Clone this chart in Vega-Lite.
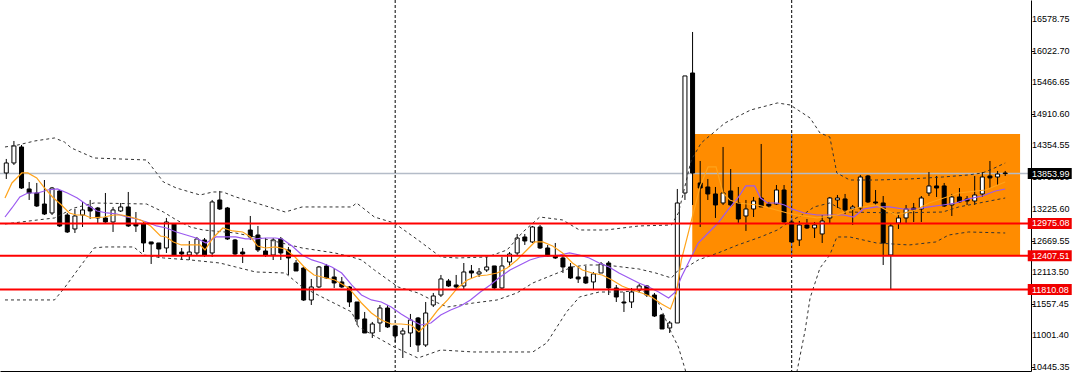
{
"$schema":"https://vega.github.io/schema/vega-lite/v6.json",
"width":1031,"height":371,"autosize":{"type":"none"},
"padding":{"left":0,"top":0,"right":49,"bottom":1},
"background":"white",
"config":{"view":{"stroke":null},"axis":{"grid":false}},
"datasets":{
"candles":[
{"i":0,"o":13865,"h":14112,"l":13759,"c":14041},{"i":1,"o":14041,"h":14429,"l":14006,"c":14341},{"i":2,"o":14323,"h":14358,"l":13583,"c":13600},{"i":3,"o":13583,"h":13706,"l":13389,"c":13512},{"i":4,"o":13512,"h":13689,"l":13266,"c":13283},{"i":5,"o":13318,"h":13741,"l":13124,"c":13142},{"i":6,"o":13160,"h":13618,"l":13124,"c":13600},{"i":7,"o":13548,"h":13565,"l":12913,"c":12931},{"i":8,"o":13124,"h":13160,"l":12807,"c":12825},{"i":9,"o":12878,"h":13230,"l":12807,"c":13107},
{"i":10,"o":13124,"h":13354,"l":12913,"c":13213},{"i":11,"o":13266,"h":13389,"l":13054,"c":13195},{"i":12,"o":13248,"h":13266,"l":12983,"c":13072},{"i":13,"o":13072,"h":13512,"l":12983,"c":13001},{"i":14,"o":13001,"h":13266,"l":12825,"c":13213},{"i":15,"o":13195,"h":13336,"l":13177,"c":13266},{"i":16,"o":13266,"h":13530,"l":12913,"c":12931},{"i":17,"o":12966,"h":13177,"l":12825,"c":12931},{"i":18,"o":12966,"h":13001,"l":12472,"c":12631},{"i":19,"o":12649,"h":12649,"l":12261,"c":12614},
{"i":20,"o":12631,"h":12631,"l":12367,"c":12525},{"i":21,"o":12543,"h":13072,"l":12455,"c":13001},{"i":22,"o":12966,"h":12983,"l":12402,"c":12419},{"i":23,"o":12472,"h":12543,"l":12331,"c":12437},{"i":24,"o":12419,"h":12666,"l":12331,"c":12472},{"i":25,"o":12455,"h":12737,"l":12419,"c":12702},{"i":26,"o":12684,"h":12719,"l":12384,"c":12419},{"i":27,"o":12455,"h":13389,"l":12384,"c":13354},{"i":28,"o":13389,"h":13548,"l":13213,"c":13230},{"i":29,"o":13248,"h":13266,"l":12684,"c":12702},
{"i":30,"o":12684,"h":12702,"l":12419,"c":12437},{"i":31,"o":12472,"h":12543,"l":12278,"c":12437},{"i":32,"o":12860,"h":13107,"l":12684,"c":12737},{"i":33,"o":12772,"h":12931,"l":12472,"c":12508},{"i":34,"o":12490,"h":12719,"l":12384,"c":12419},{"i":35,"o":12419,"h":12719,"l":12331,"c":12684},{"i":36,"o":12702,"h":12737,"l":12331,"c":12455},{"i":37,"o":12508,"h":12561,"l":12067,"c":12367},{"i":38,"o":12278,"h":12331,"l":12138,"c":12138},{"i":39,"o":12190,"h":12208,"l":11609,"c":11626},
{"i":40,"o":11626,"h":11997,"l":11538,"c":11856},{"i":41,"o":11856,"h":12226,"l":11838,"c":12208},{"i":42,"o":12226,"h":12261,"l":11997,"c":12014},{"i":43,"o":12032,"h":12190,"l":11838,"c":11926},{"i":44,"o":11944,"h":12032,"l":11838,"c":11856},{"i":45,"o":11856,"h":11873,"l":11503,"c":11591},{"i":46,"o":11591,"h":11591,"l":11186,"c":11292},{"i":47,"o":11292,"h":11415,"l":11045,"c":11045},{"i":48,"o":11045,"h":11239,"l":10957,"c":11203},{"i":49,"o":11221,"h":11538,"l":11062,"c":11485},
{"i":50,"o":11485,"h":11538,"l":11133,"c":11151},{"i":51,"o":11168,"h":11168,"l":10886,"c":10992},{"i":52,"o":11027,"h":11133,"l":10604,"c":11080},{"i":53,"o":11045,"h":11380,"l":10798,"c":11274},{"i":54,"o":11309,"h":11327,"l":10710,"c":10833},{"i":55,"o":10833,"h":11591,"l":10798,"c":11397},{"i":56,"o":11538,"h":11750,"l":11503,"c":11697},{"i":57,"o":11714,"h":12067,"l":11679,"c":11997},{"i":58,"o":11961,"h":11997,"l":11856,"c":11873},{"i":59,"o":11891,"h":12067,"l":11803,"c":11856},
{"i":60,"o":11873,"h":12278,"l":11803,"c":12120},{"i":61,"o":12138,"h":12243,"l":12014,"c":12102},{"i":62,"o":12085,"h":12190,"l":12032,"c":12120},{"i":63,"o":12155,"h":12384,"l":12120,"c":12208},{"i":64,"o":12226,"h":12226,"l":11820,"c":11838},{"i":65,"o":11838,"h":12384,"l":11803,"c":12226},{"i":66,"o":12296,"h":12472,"l":12208,"c":12437},{"i":67,"o":12455,"h":12790,"l":12419,"c":12719},{"i":68,"o":12737,"h":12790,"l":12596,"c":12666},{"i":69,"o":12649,"h":12931,"l":12631,"c":12913},
{"i":70,"o":12913,"h":12948,"l":12525,"c":12543},{"i":71,"o":12543,"h":12596,"l":12384,"c":12402},{"i":72,"o":12402,"h":12631,"l":12349,"c":12367},{"i":73,"o":12367,"h":12402,"l":12102,"c":12208},{"i":74,"o":12208,"h":12278,"l":11997,"c":12014},{"i":75,"o":12032,"h":12226,"l":11926,"c":11997},{"i":76,"o":12032,"h":12226,"l":11909,"c":11926},{"i":77,"o":11944,"h":12120,"l":11820,"c":12085},{"i":78,"o":12102,"h":12296,"l":12102,"c":12261},{"i":79,"o":12278,"h":12314,"l":11714,"c":11838},
{"i":80,"o":11838,"h":11891,"l":11591,"c":11679},{"i":81,"o":11591,"h":11767,"l":11415,"c":11573},{"i":82,"o":11591,"h":11838,"l":11485,"c":11767},{"i":83,"o":11803,"h":11909,"l":11750,"c":11873},{"i":84,"o":11873,"h":11891,"l":11679,"c":11714},{"i":85,"o":11714,"h":11750,"l":11327,"c":11344},{"i":86,"o":11362,"h":11380,"l":11115,"c":11115},{"i":87,"o":11133,"h":11256,"l":11045,"c":11221},{"i":88,"o":11221,"h":13583,"l":11221,"c":13336},{"i":89,"o":13512,"h":15575,"l":13389,"c":15575},
{"i":90,"o":15627,"h":16350,"l":13301,"c":13865},{"i":91,"o":13689,"h":14076,"l":12913,"c":13600},{"i":92,"o":13618,"h":13759,"l":13389,"c":13495},{"i":93,"o":13495,"h":13618,"l":13072,"c":13301},{"i":94,"o":13336,"h":14323,"l":13301,"c":13512},{"i":95,"o":13548,"h":13935,"l":13266,"c":13301},{"i":96,"o":13336,"h":13618,"l":12983,"c":13054},{"i":97,"o":13107,"h":13389,"l":12843,"c":13230},{"i":98,"o":13230,"h":13442,"l":13089,"c":13371},{"i":99,"o":13424,"h":14376,"l":13266,"c":13266},
{"i":100,"o":13318,"h":13354,"l":13248,"c":13283},{"i":101,"o":13318,"h":13653,"l":13301,"c":13565},{"i":102,"o":13565,"h":13653,"l":12983,"c":13001},{"i":103,"o":13001,"h":13036,"l":12631,"c":12649},{"i":104,"o":12684,"h":13019,"l":12578,"c":12948},{"i":105,"o":12948,"h":13054,"l":12878,"c":12895},{"i":106,"o":12895,"h":13001,"l":12719,"c":12948},{"i":107,"o":12790,"h":13124,"l":12631,"c":13019},{"i":108,"o":13072,"h":13442,"l":12983,"c":13424},{"i":109,"o":13389,"h":13477,"l":13248,"c":13424},
{"i":110,"o":13407,"h":13495,"l":13142,"c":13213},{"i":111,"o":13230,"h":13301,"l":12948,"c":13266},{"i":112,"o":13248,"h":13830,"l":13213,"c":13794},{"i":113,"o":13812,"h":13830,"l":13336,"c":13354},{"i":114,"o":13354,"h":13565,"l":13301,"c":13336},{"i":115,"o":13336,"h":13459,"l":12243,"c":12631},{"i":116,"o":12419,"h":12983,"l":11803,"c":12931},{"i":117,"o":12983,"h":13124,"l":12878,"c":13072},{"i":118,"o":13072,"h":13301,"l":12983,"c":13230},{"i":119,"o":13248,"h":13336,"l":13001,"c":13213},
{"i":120,"o":13230,"h":13459,"l":13001,"c":13424},{"i":121,"o":13512,"h":13882,"l":13459,"c":13636},{"i":122,"o":13636,"h":13812,"l":13442,"c":13600},{"i":123,"o":13636,"h":13689,"l":13266,"c":13283},{"i":124,"o":13301,"h":13495,"l":13107,"c":13442},{"i":125,"o":13442,"h":13600,"l":13336,"c":13354},{"i":126,"o":13407,"h":13459,"l":13301,"c":13371},{"i":127,"o":13371,"h":13812,"l":13301,"c":13477},{"i":128,"o":13495,"h":13882,"l":13442,"c":13794},{"i":129,"o":13812,"h":14076,"l":13600,"c":13777},
{"i":130,"o":13794,"h":13900,"l":13653,"c":13847},{"i":131,"o":13865,"h":13900,"l":13812,"c":13854}
],
"maFast":[{"x":-0.17,"y":13424},{"x":0.74,"y":13689},{"x":2.04,"y":13865},{"x":2.82,"y":13865},{"x":3.99,"y":13777},{"x":5.03,"y":13600},{"x":6.06,"y":13442},{"x":7.23,"y":13301},{"x":8.27,"y":13160},{"x":9.18,"y":13124},{"x":10.22,"y":13124},{"x":11.13,"y":13072},{"x":12.82,"y":13089},{"x":14.12,"y":13124},{"x":15.16,"y":13124},{"x":16.32,"y":13089},{"x":17.62,"y":13037},{"x":18.92,"y":12931},{"x":20.22,"y":12754},{"x":21.0,"y":12737},{"x":21.91,"y":12649},{"x":22.95,"y":12596},{"x":24.12,"y":12596},{"x":25.42,"y":12596},{"x":26.06,"y":12508},{"x":27.1,"y":12719},{"x":28.4,"y":12895},{"x":29.7,"y":12843},{"x":31.0,"y":12825},{"x":32.04,"y":12737},{"x":32.95,"y":12578},{"x":33.99,"y":12543},{"x":35.29,"y":12561},{"x":36.58,"y":12525},{"x":37.87,"y":12384},{"x":39.18,"y":12190},{"x":40.35,"y":12067},{"x":41.39,"y":12032},{"x":43.08,"y":11979},{"x":44.9,"y":11838},{"x":46.58,"y":11573},{"x":47.88,"y":11397},{"x":49.18,"y":11274},{"x":50.48,"y":11203},{"x":51.78,"y":11203},{"x":53.08,"y":11186},{"x":54.12,"y":11062},{"x":55.29,"y":11221},{"x":56.6,"y":11450},{"x":57.88,"y":11627},{"x":59.18,"y":11838},{"x":60.48,"y":11979},{"x":61.78,"y":12049},{"x":63.08,"y":12067},{"x":64.38,"y":12102},{"x":65.68,"y":12190},{"x":66.97,"y":12332},{"x":68.27,"y":12508},{"x":69.31,"y":12649},{"x":70.35,"y":12649},{"x":71.65,"y":12578},{"x":72.95,"y":12455},{"x":74.25,"y":12278},{"x":75.55,"y":12155},{"x":76.84,"y":12102},{"x":78.14,"y":12067},{"x":79.44,"y":11979},{"x":80.74,"y":11873},{"x":82.04,"y":11803},{"x":83.34,"y":11750},{"x":84.64,"y":11679},{"x":85.94,"y":11556},{"x":87.1,"y":11468},{"x":87.88,"y":11750},{"x":88.53,"y":12332},{"x":89.31,"y":12737},{"x":91.0,"y":13636},{"x":92.04,"y":13971},{"x":93.08,"y":13971},{"x":93.99,"y":13512},{"x":94.9,"y":13389},{"x":95.94,"y":13336},{"x":98.53,"y":13301},{"x":102.43,"y":13160},{"x":103.73,"y":13124},{"x":106.32,"y":13072},{"x":108.92,"y":13124},{"x":111.52,"y":13248},{"x":114.12,"y":13301},{"x":116.71,"y":13124},{"x":119.31,"y":13213},{"x":121.0,"y":13336},{"x":124.9,"y":13512},{"x":128.4,"y":13565},{"x":131.0,"y":13706}],
"maSlow":[{"x":-0.17,"y":13089},{"x":0.74,"y":13248},{"x":1.78,"y":13442},{"x":2.82,"y":13512},{"x":4.12,"y":13512},{"x":5.42,"y":13565},{"x":6.71,"y":13583},{"x":8.01,"y":13512},{"x":9.31,"y":13424},{"x":10.61,"y":13301},{"x":11.91,"y":13195},{"x":13.21,"y":13160},{"x":14.51,"y":13142},{"x":15.81,"y":13089},{"x":17.1,"y":13054},{"x":18.4,"y":13001},{"x":19.7,"y":12931},{"x":21.0,"y":12895},{"x":22.3,"y":12825},{"x":23.6,"y":12772},{"x":24.9,"y":12719},{"x":26.19,"y":12631},{"x":27.49,"y":12737},{"x":28.79,"y":12737},{"x":30.09,"y":12737},{"x":31.39,"y":12702},{"x":32.69,"y":12702},{"x":33.99,"y":12719},{"x":35.29,"y":12719},{"x":36.19,"y":12702},{"x":37.48,"y":12578},{"x":38.79,"y":12419},{"x":40.09,"y":12332},{"x":41.39,"y":12278},{"x":42.69,"y":12208},{"x":43.99,"y":12102},{"x":45.29,"y":11891},{"x":46.58,"y":11714},{"x":47.88,"y":11627},{"x":49.18,"y":11591},{"x":50.48,"y":11503},{"x":51.78,"y":11380},{"x":53.08,"y":11274},{"x":54.38,"y":11186},{"x":55.68,"y":11221},{"x":56.97,"y":11362},{"x":58.27,"y":11450},{"x":59.57,"y":11521},{"x":60.87,"y":11627},{"x":62.17,"y":11767},{"x":63.47,"y":11891},{"x":64.77,"y":12032},{"x":66.06,"y":12155},{"x":67.36,"y":12243},{"x":68.66,"y":12332},{"x":69.96,"y":12384},{"x":71.26,"y":12402},{"x":72.56,"y":12419},{"x":73.86,"y":12455},{"x":75.16,"y":12419},{"x":76.45,"y":12367},{"x":77.75,"y":12278},{"x":79.05,"y":12208},{"x":80.35,"y":12102},{"x":81.65,"y":12014},{"x":82.95,"y":11926},{"x":84.25,"y":11856},{"x":85.55,"y":11767},{"x":86.86,"y":11661},{"x":87.75,"y":11767},{"x":88.53,"y":12032},{"x":89.44,"y":12278},{"x":90.74,"y":12631},{"x":92.04,"y":12807},{"x":93.34,"y":12983},{"x":94.64,"y":13213},{"x":95.94,"y":13424},{"x":96.97,"y":13636},{"x":98.14,"y":13636},{"x":98.92,"y":13424},{"x":99.83,"y":13336},{"x":101.13,"y":13336},{"x":102.04,"y":13301},{"x":103.08,"y":13230},{"x":104.64,"y":13160},{"x":106.32,"y":13124},{"x":108.0,"y":13124},{"x":109.83,"y":13124},{"x":111.13,"y":13089},{"x":112.43,"y":13230},{"x":114.12,"y":13266},{"x":115.81,"y":13266},{"x":117.62,"y":13230},{"x":119.31,"y":13230},{"x":121.0,"y":13266},{"x":122.82,"y":13301},{"x":124.52,"y":13336},{"x":126.2,"y":13407},{"x":128.0,"y":13459},{"x":129.7,"y":13548},{"x":131.0,"y":13583}],
"bbUp":[{"x":-0.17,"y":14323},{"x":1.52,"y":14358},{"x":3.73,"y":14429},{"x":6.32,"y":14482},{"x":7.62,"y":14411},{"x":8.53,"y":14306},{"x":11.52,"y":14129},{"x":18.4,"y":14094},{"x":20.61,"y":13706},{"x":22.3,"y":13600},{"x":25.42,"y":13477},{"x":27.1,"y":13530},{"x":28.4,"y":13530},{"x":30.09,"y":13442},{"x":33.6,"y":13301},{"x":36.58,"y":13177},{"x":38.79,"y":13266},{"x":45.29,"y":13266},{"x":45.94,"y":13336},{"x":48.27,"y":13089},{"x":50.87,"y":12983},{"x":53.99,"y":12684},{"x":56.97,"y":12384},{"x":59.18,"y":12367},{"x":63.08,"y":12384},{"x":65.68,"y":12508},{"x":67.75,"y":12825},{"x":69.96,"y":13089},{"x":72.95,"y":13037},{"x":75.16,"y":12860},{"x":78.66,"y":12860},{"x":82.95,"y":12931},{"x":87.23,"y":12948},{"x":88.14,"y":13160},{"x":88.79,"y":13512},{"x":89.83,"y":14094},{"x":91.13,"y":14394},{"x":94.25,"y":14746},{"x":97.62,"y":14975},{"x":101.13,"y":15099},{"x":102.82,"y":15063},{"x":105.41,"y":14834},{"x":106.71,"y":14570},{"x":108.0,"y":14499},{"x":108.92,"y":13865},{"x":110.61,"y":13741},{"x":114.12,"y":13741},{"x":118.4,"y":13759},{"x":122.82,"y":13794},{"x":126.2,"y":13830},{"x":128.0,"y":13865},{"x":129.31,"y":13935},{"x":131.0,"y":14041}],
"bbMid":[{"x":-0.17,"y":12966},{"x":4.12,"y":13037},{"x":6.32,"y":13072},{"x":8.92,"y":13248},{"x":11.52,"y":13336},{"x":18.4,"y":13318},{"x":20.61,"y":13177},{"x":22.3,"y":13037},{"x":24.12,"y":12913},{"x":25.81,"y":12860},{"x":30.09,"y":12807},{"x":34.51,"y":12684},{"x":38.79,"y":12543},{"x":43.08,"y":12455},{"x":45.29,"y":12384},{"x":46.58,"y":12332},{"x":48.27,"y":12155},{"x":51.39,"y":11856},{"x":53.99,"y":11750},{"x":56.6,"y":11573},{"x":57.88,"y":11503},{"x":61.26,"y":11573},{"x":64.38,"y":11627},{"x":66.97,"y":11750},{"x":69.05,"y":11926},{"x":71.65,"y":12067},{"x":74.25,"y":12208},{"x":76.06,"y":12243},{"x":78.66,"y":12243},{"x":80.74,"y":12208},{"x":82.95,"y":12173},{"x":85.16,"y":12102},{"x":87.23,"y":12014},{"x":88.14,"y":12155},{"x":89.05,"y":12190},{"x":90.74,"y":12332},{"x":93.34,"y":12455},{"x":95.94,"y":12596},{"x":98.92,"y":12737},{"x":101.13,"y":12860},{"x":103.08,"y":13037},{"x":104.64,"y":13142},{"x":105.93,"y":13266},{"x":108.0,"y":13336},{"x":110.22,"y":13177},{"x":116.71,"y":13160},{"x":122.82,"y":13177},{"x":124.9,"y":13266},{"x":131.0,"y":13424}],
"bbLow":[{"x":-0.17,"y":11627},{"x":6.32,"y":11627},{"x":7.62,"y":11838},{"x":9.83,"y":12243},{"x":11.52,"y":12543},{"x":12.82,"y":12561},{"x":16.71,"y":12561},{"x":18.01,"y":12419},{"x":20.61,"y":12367},{"x":24.12,"y":12332},{"x":28.01,"y":12278},{"x":30.09,"y":12208},{"x":32.69,"y":12120},{"x":36.58,"y":12102},{"x":38.79,"y":11856},{"x":41.39,"y":11679},{"x":45.29,"y":11415},{"x":46.19,"y":11151},{"x":50.87,"y":10798},{"x":53.99,"y":10604},{"x":56.97,"y":10745},{"x":61.26,"y":10710},{"x":65.68,"y":10710},{"x":69.05,"y":10710},{"x":70.87,"y":10869},{"x":73.47,"y":11415},{"x":75.16,"y":11679},{"x":77.75,"y":11767},{"x":80.74,"y":11767},{"x":83.34,"y":11803},{"x":85.55,"y":11573},{"x":87.23,"y":11045},{"x":88.14,"y":10798},{"x":89.05,"y":10393},{"x":89.44,"y":10040},{"x":90.74,"y":9335},{"x":98.53,"y":8806},{"x":102.43,"y":9511},{"x":103.73,"y":10393},{"x":104.77,"y":11098},{"x":105.41,"y":11661},{"x":106.71,"y":12190},{"x":108.0,"y":12419},{"x":108.92,"y":12737},{"x":110.61,"y":12737},{"x":114.12,"y":12631},{"x":118.4,"y":12596},{"x":121.91,"y":12649},{"x":123.6,"y":12772},{"x":126.2,"y":12825},{"x":131.0,"y":12807}],
"levels":[{"v":12975.08},{"v":12407.51},{"v":11810.08}],
"ticks":[{"v":16578.75,"t":"16578.75"},{"v":16022.70,"t":"16022.70"},{"v":15466.65,"t":"15466.65"},{"v":14910.60,"t":"14910.60"},{"v":14354.55,"t":"14354.55"},{"v":13798.50,"t":"13798.50"},{"v":13225.60,"t":"13225.60"},{"v":12669.55,"t":"12669.55"},{"v":12113.50,"t":"12113.50"},{"v":11557.45,"t":"11557.45"},{"v":11001.40,"t":"11001.40"},{"v":10445.35,"t":"10445.35"}],
"tags":[{"v":13853.99,"t":"13853.99","k":"bid"},{"v":12975.08,"t":"12975.08","k":"level"},{"v":12407.51,"t":"12407.51","k":"level"},{"v":11810.08,"t":"11810.08","k":"level"}]
},
"layer":[
{"data":{"values":[{"x1":89.96,"x2":132.95,"y1":12402,"y2":14552}]},
 "mark":{"type":"rect","color":"#ff8c00"},
 "encoding":{
  "x":{"field":"x1","type":"quantitative","scale":{"domain":[-0.1688,133.7273],"nice":false,"zero":false},"axis":{"orient":"bottom","labels":false,"ticks":false,"grid":false,"title":null,"domainColor":"#000000"}},
  "x2":{"field":"x2"},
  "y":{"field":"y1","type":"quantitative","scale":{"domain":[10374.7,16913.6],"nice":false,"zero":false},"axis":{"orient":"right","values":[16578.75,16022.70,15466.65,14910.60,14354.55,13798.50,13225.60,12669.55,12113.50,11557.45,11001.40,10445.35],"labels":false,"title":null,"grid":false,"tickSize":3,"tickColor":"#000000","domainColor":"#000000"}},
  "y2":{"field":"y2"}}},
{"data":{"values":[{"v":13853.99}]},
 "mark":{"type":"rule","color":"#b4bcc8","strokeWidth":1.5},
 "encoding":{"y":{"field":"v","type":"quantitative"}}},
{"data":{"values":[{"i":51},{"i":103}]},
 "mark":{"type":"rule","color":"#000000","strokeWidth":1,"strokeDash":[3,2]},
 "encoding":{"x":{"field":"i","type":"quantitative"}}},
{"data":{"values":[{"i":103,"a":12402,"b":14552}]},
 "mark":{"type":"rule","color":"#2a6cff","strokeWidth":1,"strokeDash":[3,2]},
 "encoding":{"x":{"field":"i","type":"quantitative"},"y":{"field":"a","type":"quantitative"},"y2":{"field":"b"}}},
{"data":{"name":"candles"},
 "mark":{"type":"rule","color":"#000000","strokeWidth":1},
 "encoding":{"x":{"field":"i","type":"quantitative"},"y":{"field":"l","type":"quantitative"},"y2":{"field":"h"}}},
{"data":{"name":"candles"},
 "mark":{"type":"bar","width":4,"stroke":"#000000","strokeWidth":1},
 "encoding":{"x":{"field":"i","type":"quantitative"},"y":{"field":"o","type":"quantitative"},"y2":{"field":"c"},
  "fill":{"condition":{"test":"datum.c >= datum.o","value":"#ffffff"},"value":"#000000"}}},
{"data":{"name":"bbUp"},
 "mark":{"type":"line","color":"#333333","strokeWidth":1,"strokeDash":[3,3],"clip":true},
 "encoding":{"x":{"field":"x","type":"quantitative"},"y":{"field":"y","type":"quantitative"}}},
{"data":{"name":"bbMid"},
 "mark":{"type":"line","color":"#333333","strokeWidth":1,"strokeDash":[3,3],"clip":true},
 "encoding":{"x":{"field":"x","type":"quantitative"},"y":{"field":"y","type":"quantitative"}}},
{"data":{"name":"bbLow"},
 "mark":{"type":"line","color":"#333333","strokeWidth":1,"strokeDash":[3,3],"clip":true},
 "encoding":{"x":{"field":"x","type":"quantitative"},"y":{"field":"y","type":"quantitative"}}},
{"data":{"name":"maSlow"},
 "mark":{"type":"line","color":"#9b59f0","strokeWidth":1.2,"clip":true},
 "encoding":{"x":{"field":"x","type":"quantitative"},"y":{"field":"y","type":"quantitative"}}},
{"data":{"name":"maFast"},
 "mark":{"type":"line","color":"#ffa31a","strokeWidth":1.2,"clip":true},
 "encoding":{"x":{"field":"x","type":"quantitative"},"y":{"field":"y","type":"quantitative"}}},
{"data":{"name":"levels"},
 "mark":{"type":"rule","color":"#ff0000","strokeWidth":2},
 "encoding":{"y":{"field":"v","type":"quantitative"}}},
{"data":{"name":"ticks"},
 "mark":{"type":"text","align":"left","baseline":"middle","font":"Liberation Sans","fontSize":9,"color":"#000000"},
 "encoding":{"x":{"datum":134.5,"type":"quantitative"},"y":{"field":"v","type":"quantitative"},"text":{"field":"t"}}},
{"data":{"name":"tags"},
 "mark":{"type":"point","shape":"M-1,-0.25H1V0.25H-1Z","size":1936,"filled":true,"opacity":1},
 "encoding":{"x":{"datum":136.84,"type":"quantitative"},"y":{"field":"v","type":"quantitative"},
  "color":{"field":"k","type":"nominal","scale":{"domain":["bid","level"],"range":["#000000","#f00000"]},"legend":null}}},
{"data":{"name":"tags"},
 "mark":{"type":"text","align":"left","baseline":"middle","font":"Liberation Sans","fontSize":9,"color":"#ffffff"},
 "encoding":{"x":{"datum":134.5,"type":"quantitative"},"y":{"field":"v","type":"quantitative"},"text":{"field":"t"}}}
]
}
